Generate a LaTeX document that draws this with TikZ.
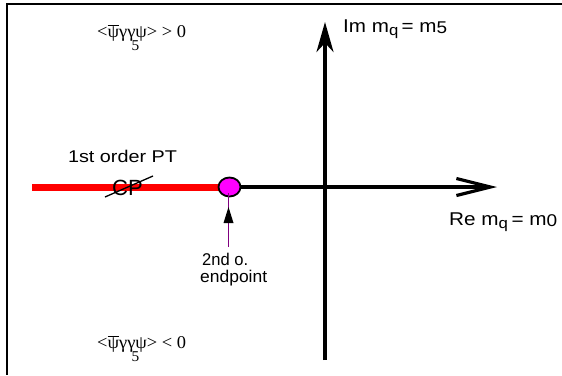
\documentclass[tikz,border=0pt]{standalone}
\usepackage{fontspec}
\setmainfont{Liberation Sans}
\newfontfamily\serifx{Liberation Serif}
\usepackage{graphicx}
\usetikzlibrary{arrows.meta,shapes.geometric,backgrounds}
\definecolor{magentax}{RGB}{255,0,255}
\definecolor{purplex}{RGB}{128,0,128}
\newcommand{\fitw}[2]{\resizebox{#1}{\height}{#2}}
\newcommand{\psibar}{\(\overline{\hbox{\serifx ψ}}\)}
\newcommand{\cond}[1]{\fitw{89pt}{\serifx\fontsize{18}{18}\selectfont <\psibar γγ\makebox[0pt][c]{\raisebox{-13pt}{\fontsize{15}{15}\selectfont 5}}ψ> #1 0}}
\newcommand{\subx}[1]{\raisebox{-3.5pt}{\fontsize{15}{15}\selectfont #1}}
\begin{document}
\begin{tikzpicture}[x=1pt,y=-1pt,
  lab/.style={inner sep=0pt,font=\fontsize{17}{17}\selectfont},
  cnd/.style={inner sep=0pt,anchor=base west},
  axis/.style={line width=3.2pt},
  redline/.style={line width=7pt,red},
  frame/.style={line width=2.6pt},
  endpt/.style={ellipse,draw,line width=1.8pt,fill=magentax,minimum width=22pt,minimum height=19pt,inner sep=0pt}]
\useasboundingbox (0,0) rectangle (562,375);
% frame
\coordinate (fr1) at (562,4);
\coordinate (fr2) at (7,4);
\coordinate (fr3) at (7,375);
\draw[frame] (fr1) -- (fr2) -- (fr3);
% coordinates
\coordinate (redstart) at (32,187);
\coordinate (hend) at (497,187);
\coordinate (vstart) at (325,360);
\coordinate (vend) at (325,22);
\coordinate (tail) at (228.5,247);
\coordinate (tip) at (228.5,207);
% axes
\draw[axis,-{Stealth[length=30pt,width=17pt,inset=9pt]}] (vstart) -- (vend);
\node[endpt] (ep) at (229.5,187) {};
\begin{pgfonlayer}{background}
\draw[redline] (redstart) -- (ep.center);
\end{pgfonlayer}
\draw[axis,-{Straight Barb[length=34pt,width=17pt,line width=3.2pt]}] (ep.east) -- (hend);
% small arrow
\draw[purplex,line width=1.1pt] (tail) -- ([yshift=14pt]tip);
\fill (tip) -- ++(-5,16) -- ++(10,0) -- cycle;
% labels
\node[lab,anchor=base] (fo) at (122.5,162) {\fitw{109pt}{1st order PT}};
\node[lab,anchor=base,font=\fontsize{22}{22}\selectfont] (cp) at (127.5,195) {CP};
\coordinate (sl1) at (105,197);
\coordinate (sl2) at (153,176);
\draw[line width=1.3pt] (sl1) -- (sl2);
\node[lab,anchor=north west,align=left,font=\fontsize{17}{17}\selectfont] (lbl) at (200,253) {\hspace{2pt}\fitw{46pt}{2nd o.}\\\fitw{67pt}{endpoint}};
\node[lab,anchor=base west,font=\fontsize{18.5}{18.5}\selectfont] (im) at (343,32) {\fitw{104pt}{Im m\subx{q}\,= m\raisebox{-1pt}{\fontsize{17}{17}\selectfont 5}}};
\node[lab,anchor=base west,font=\fontsize{18.5}{18.5}\selectfont] (re) at (449,225) {\fitw{108pt}{Re m\subx{q}\,= m\raisebox{-1pt}{\fontsize{17}{17}\selectfont 0}}};
\node[cnd] (c1) at (97,37) {\cond{>}};
\node[cnd] (c2) at (97,348) {\cond{<}};
\end{tikzpicture}
\end{document}
